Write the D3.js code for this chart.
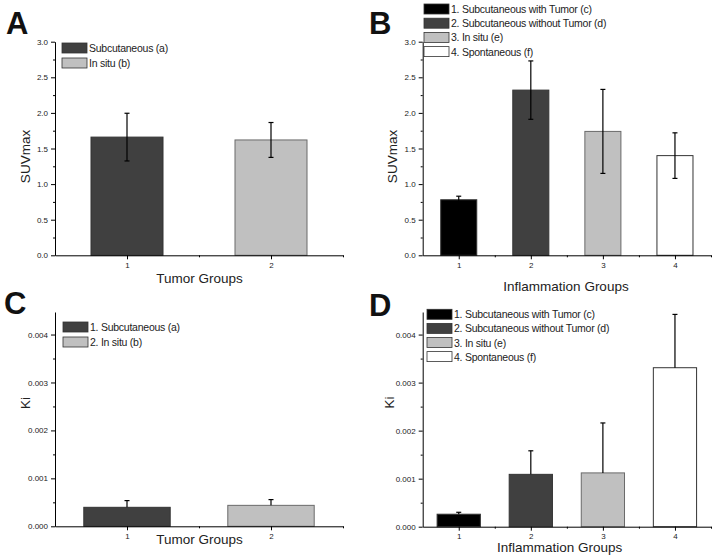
<!DOCTYPE html>
<html>
<head>
<meta charset="utf-8">
<script src="https://cdn.jsdelivr.net/npm/d3@7"></script>
<style>
  body { margin: 0; background: #fff; }
  svg { display: block; }
  .tick text { font-family: "Liberation Sans", Arial, sans-serif; fill: #222; }
  .axis path, .axis line { stroke: #000; }
</style>
</head>
<body>
<div id="chart"></div>
<script>
// categories
var tumorGroups = [1, 2];
var inflamGroups = [1, 2, 3, 4];

// legend labels
var suvTumorLegend = ["Subcutaneous (a)", "In situ (b)"];
var kiTumorLegend = ["1. Subcutaneous (a)", "2. In situ (b)"];
var inflamLegend = ["1. Subcutaneous with Tumor (c)", "2. Subcutaneous without Tumor (d)", "3. In situ (e)", "4. Spontaneous (f)"];

// SUVmax values (mean, error)
var suvTumorMean = [1.66, 1.62];
var suvTumorErr = [0.335, 0.245];
var suvInflamMean = [0.78, 2.32, 1.74, 1.40];
var suvInflamErr = [0.05, 0.41, 0.59, 0.32];

// Ki values (mean, upper error)
var kiTumorMean = [0.000396, 0.000437];
var kiTumorErr = [0.00014, 0.00012];
var kiInflamMean = [0.00026, 0.00109, 0.00112, 0.00331];
var kiInflamErr = [0.00004, 0.00049, 0.00104, 0.00111];

// y tick values
var suvTicks = [0, 0.5, 1.0, 1.5, 2.0, 2.5, 3.0];
var kiTicks = [0, 0.001, 0.002, 0.003, 0.004];

var tumorFills = ["#404040", "#c0c0c0"];
var inflamFills = ["#000000", "#404040", "#c0c0c0", "#ffffff"];

var svg = d3.select("#chart").append("svg")
  .attr("width", 714)
  .attr("height", 557);

function drawPanel(p) {
  var g = svg.append("g");

  var x = d3.scaleLinear().domain([0.5, p.cats.length + 0.5]).range([p.left, p.right]);
  var y = d3.scaleLinear().domain(p.yDomain).range([p.bottom, p.top]);

  // minor ticks first
  var yMinor = [];
  for (var i = 0; i < p.yTicks.length - 1; i++) yMinor.push((p.yTicks[i] + p.yTicks[i + 1]) / 2);
  if (p.yDomain[1] > p.yTicks[p.yTicks.length - 1]) {
    var st = p.yTicks[1] - p.yTicks[0];
    var v = p.yTicks[p.yTicks.length - 1] + st / 2;
    if (v <= p.yDomain[1]) yMinor.push(v);
  }
  g.append("g")
    .attr("class", "axis")
    .attr("transform", "translate(" + p.left + ",0)")
    .call(d3.axisLeft(y).tickValues(yMinor).tickSize(2).tickFormat(""))
    .select(".domain").remove();

  var xMinor = [];
  for (var j = 0; j <= p.cats.length; j++) xMinor.push(j + 0.5);
  g.append("g")
    .attr("class", "axis")
    .attr("transform", "translate(0," + p.bottom + ")")
    .call(d3.axisBottom(x).tickValues(xMinor.slice(1)).tickSize(2).tickFormat(""))
    .select(".domain").remove();

  // bars
  g.selectAll("rect.bar")
    .data(p.mean)
    .enter().append("rect")
    .attr("class", "bar")
    .attr("x", function(d, i) { return x(p.cats[i] - p.barW / 2); })
    .attr("width", function() { return x(1 + p.barW) - x(1); })
    .attr("y", function(d) { return y(d); })
    .attr("height", function(d) { return y(0) - y(d); })
    .attr("fill", function(d, i) { return p.fills[i]; })
    .attr("stroke", function(d, i) { return p.fills[i] === "#c0c0c0" ? "#6a6a6a" : "#333"; })
    .attr("stroke-width", 1);

  // error bars
  var cap = 2.5;
  p.mean.forEach(function(m, i) {
    var cx = x(p.cats[i]);
    var hi = y(m + p.err[i]);
    var lo = p.oneSided ? y(m) : y(m - p.err[i]);
    g.append("line").attr("x1", cx).attr("x2", cx).attr("y1", hi).attr("y2", lo)
      .attr("stroke", "#000").attr("stroke-width", 1.2);
    g.append("line").attr("x1", cx - cap).attr("x2", cx + cap).attr("y1", hi).attr("y2", hi)
      .attr("stroke", "#000").attr("stroke-width", 1.2);
    if (!p.oneSided) {
      g.append("line").attr("x1", cx - cap).attr("x2", cx + cap).attr("y1", lo).attr("y2", lo)
        .attr("stroke", "#000").attr("stroke-width", 1.2);
    }
  });

  // axes
  var yAxis = g.append("g")
    .attr("class", "axis")
    .attr("transform", "translate(" + p.left + ",0)")
    .call(d3.axisLeft(y).tickValues(p.yTicks).tickSize(4).tickPadding(3).tickSizeOuter(0).tickFormat(p.fmt));
  yAxis.selectAll("text").style("font-size", "8px");

  var xAxis = g.append("g")
    .attr("class", "axis")
    .attr("transform", "translate(0," + p.bottom + ")")
    .call(d3.axisBottom(x).tickValues(p.cats).tickSize(4).tickPadding(3).tickSizeOuter(0).tickFormat(d3.format("d")));
  xAxis.selectAll("text").style("font-size", "8px");

  // axis titles
  g.append("text")
    .attr("x", p.xTitle[0]).attr("y", p.xTitle[1])
    .attr("text-anchor", "middle")
    .style("font-family", "Liberation Sans, Arial, sans-serif")
    .style("font-size", "13.5px")
    .attr("fill", "#222")
    .text(p.xLabel);
  g.append("text")
    .attr("transform", "translate(" + p.yTitle[0] + "," + p.yTitle[1] + ") rotate(-90)")
    .attr("text-anchor", "middle")
    .style("font-family", "Liberation Sans, Arial, sans-serif")
    .style("font-size", "13.5px")
    .attr("fill", "#222")
    .text(p.yLabel);

  // legend
  p.legend.forEach(function(t, i) {
    var ly = p.legPos[1] + i * p.legStep;
    g.append("rect")
      .attr("x", p.legPos[0]).attr("y", ly)
      .attr("width", 25).attr("height", 10)
      .attr("fill", p.fills[i])
      .attr("stroke", "#333").attr("stroke-width", 0.8);
    g.append("text")
      .attr("x", p.legPos[0] + 27).attr("y", ly + 9)
      .style("font-family", "Liberation Sans, Arial, sans-serif")
      .style("font-size", "10.5px")
      .style("letter-spacing", "-0.25px")
      .attr("fill", "#222")
      .text(t);
  });

  // panel letter
  g.append("text")
    .attr("x", p.letter[0]).attr("y", p.letter[1])
    .style("font-family", "Liberation Sans, Arial, sans-serif")
    .style("font-weight", "bold")
    .style("font-size", "31px")
    .attr("fill", "#111")
    .text(p.letterText);
}

drawPanel({
  cats: tumorGroups, mean: suvTumorMean, err: suvTumorErr, fills: tumorFills,
  left: 55, right: 343, top: 41.7, bottom: 255.3, yDomain: [0, 3.0], yTicks: suvTicks,
  fmt: d3.format(".1f"), barW: 0.5, oneSided: false,
  xLabel: "Tumor Groups", xTitle: [199.5, 283], yLabel: "SUVmax", yTitle: [30, 156.5],
  legend: suvTumorLegend, legPos: [62, 43], legStep: 15,
  letter: [6, 33.5], letterText: "A"
});

drawPanel({
  cats: inflamGroups, mean: suvInflamMean, err: suvInflamErr, fills: inflamFills,
  left: 422.7, right: 711, top: 41.7, bottom: 255.3, yDomain: [0, 3.0], yTicks: suvTicks,
  fmt: d3.format(".1f"), barW: 0.5, oneSided: false,
  xLabel: "Inflammation Groups", xTitle: [566, 290.5], yLabel: "SUVmax", yTitle: [396.5, 156.5],
  legend: inflamLegend, legPos: [424, 4], legStep: 14.2,
  letter: [369, 33.5], letterText: "B"
});

drawPanel({
  cats: tumorGroups, mean: kiTumorMean, err: kiTumorErr, fills: tumorFills,
  left: 55, right: 343, top: 312, bottom: 526.3, yDomain: [0, 0.00447], yTicks: kiTicks,
  fmt: d3.format(".3f"), barW: 0.6, oneSided: true,
  xLabel: "Tumor Groups", xTitle: [199.5, 543.5], yLabel: "Ki", yTitle: [29.5, 403],
  legend: kiTumorLegend, legPos: [63, 322], legStep: 15,
  letter: [4, 313.5], letterText: "C"
});

drawPanel({
  cats: inflamGroups, mean: kiInflamMean, err: kiInflamErr, fills: inflamFills,
  left: 422.7, right: 711, top: 312, bottom: 526.7, yDomain: [0, 0.00447], yTicks: kiTicks,
  fmt: d3.format(".3f"), barW: 0.6, oneSided: true,
  xLabel: "Inflammation Groups", xTitle: [559.7, 552], yLabel: "Ki", yTitle: [393.5, 402.5],
  legend: inflamLegend, legPos: [427, 309.3], legStep: 14.1,
  letter: [369, 316], letterText: "D"
});
</script>
</body>
</html>
